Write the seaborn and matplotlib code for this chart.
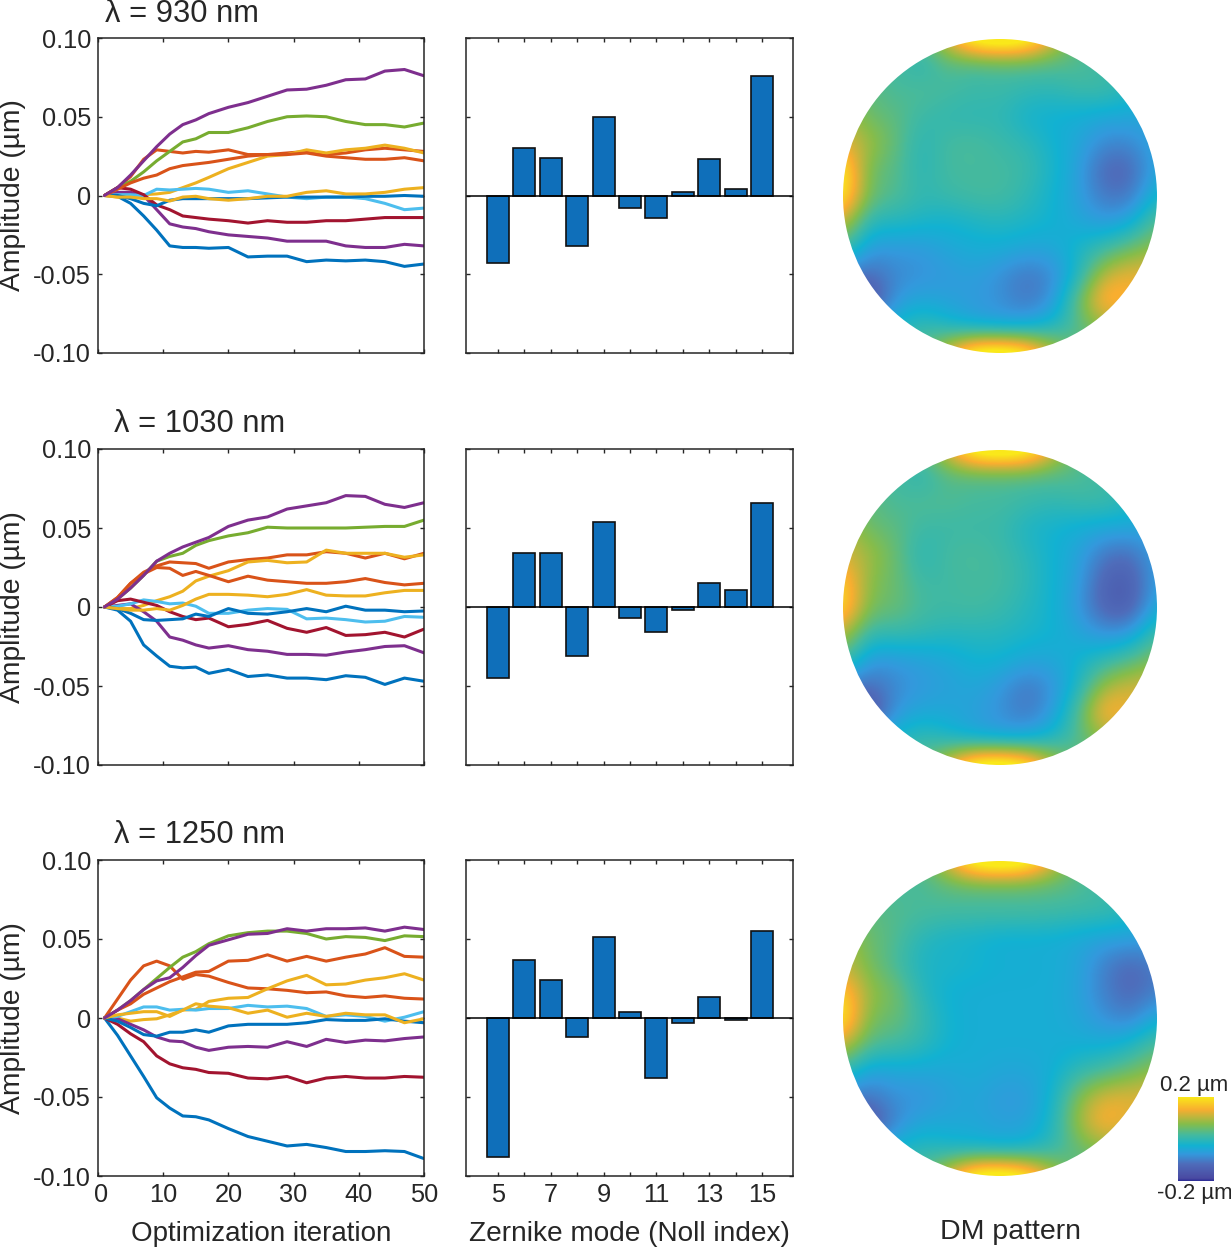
'''
plot.py

Zernike mode optimisation at three wavelengths: amplitude traces, final
amplitudes and the deformable mirror pattern.
'''
import matplotlib.pyplot as plt
import numpy as np
import seaborn as sns
from matplotlib.colors import LinearSegmentedColormap
from matplotlib.patches import Circle
from matplotlib.transforms import ScaledTranslation

W, H = 1231, 1247

iters = [1, 3, 5, 7, 9, 11, 13, 15, 17, 20, 23, 26, 29, 32, 35, 38, 41, 44, 47, 50]
modes = [5, 6, 7, 8, 9, 10, 11, 12, 13, 14, 15]
mode_colors = ["#0072BD", "#D95319", "#EDB120", "#7E2F8E", "#77AC30", "#4DBEEE",
               "#A2142F", "#0072BD", "#D95319", "#EDB120", "#7E2F8E"]
wavelengths = [930, 1030, 1250]

# amplitude traces, one row per Zernike mode (5 to 15)
traces_930 = [
    [0, -.0005, -.005, -.013, -.022, -.032, -.033, -.033, -.0335, -.033, -.039, -.0385, -.0385, -.042, -.041, -.0415, -.041, -.042, -.045, -.0435],
    [0, .005, .012, .023, .029, .028, .027, .028, .0275, .029, .026, .026, .027, .028, .026, .027, .029, .03, .029, .028],
    [0, -.001, 0, .0005, .001, .002, .005, .008, .0115, .017, .021, .025, .026, .029, .027, .029, .03, .032, .03, .027],
    [0, .002, .002, 0, -.009, -.018, -.02, -.021, -.023, -.025, -.026, -.027, -.029, -.029, -.029, -.032, -.033, -.033, -.031, -.032],
    [0, .005, .009, .015, .022, .028, .034, .036, .04, .04, .043, .047, .05, .0505, .05, .047, .045, .045, .0435, .046],
    [0, .0005, .0005, 0, .004, .0035, .004, .0045, .004, .002, .003, .001, -.001, -.002, -.001, -.001, -.002, -.005, -.009, -.008],
    [0, .005, .004, .0005, -.006, -.009, -.013, -.014, -.015, -.016, -.0175, -.016, -.017, -.017, -.016, -.016, -.015, -.014, -.014, -.014],
    [0, 0, -.002, -.005, -.0065, -.003, -.002, -.002, -.002, -.002, -.002, -.0015, -.001, -.001, -.001, -.001, -.0005, -.0005, 0, -.0005],
    [0, .004, .008, .011, .013, .017, .019, .02, .021, .023, .025, .026, .026, .027, .025, .024, .023, .023, .024, .022],
    [0, -.001, -.001, -.002, -.002, -.0035, -.001, -.0005, -.002, -.003, -.002, -.0005, -.0005, .002, .003, .001, .001, .002, .004, .005],
    [0, .005, .013, .022, .031, .039, .045, .048, .052, .056, .059, .063, .067, .0675, .07, .0735, .074, .079, .08, .076],
]
traces_1030 = [
    [0, -.002, -.009, -.024, -.031, -.0375, -.0385, -.038, -.042, -.0395, -.044, -.043, -.045, -.045, -.046, -.0435, -.0445, -.049, -.045, -.047],
    [0, .006, .015, .022, .026, .0285, .028, .0275, .0245, .0285, .03, .031, .033, .033, .035, .034, .031, .034, .0305, .034],
    [0, -.001, -.001, .001, .004, .0065, .01, .0165, .0195, .023, .0285, .0295, .028, .0285, .036, .034, .034, .034, .0315, .033],
    [0, .001, .002, -.003, -.009, -.019, -.021, -.024, -.026, -.0245, -.027, -.028, -.03, -.03, -.0305, -.0285, -.027, -.025, -.0245, -.029],
    [0, .005, .012, .02, .029, .032, .034, .039, .042, .045, .047, .0505, .05, .05, .05, .05, .0505, .051, .051, .055],
    [0, .0005, .002, .0045, .0035, .002, .0025, .0005, -.004, -.004, -.002, -.001, -.0015, -.0075, -.007, -.008, -.0095, -.009, -.006, -.0065],
    [0, .004, .005, .003, .001, -.003, -.006, -.008, -.007, -.0125, -.011, -.0085, -.0135, -.016, -.013, -.018, -.0175, -.016, -.019, -.014],
    [0, -.001, -.004, -.008, -.0085, -.008, -.0075, -.0045, -.006, -.001, -.004, -.0045, -.003, -.001, -.003, .0005, -.002, -.002, -.003, -.0025],
    [0, .006, .015, .021, .025, .0245, .02, .0225, .02, .016, .0195, .017, .016, .015, .015, .016, .018, .0155, .014, .015],
    [0, -.001, -.002, -.002, -.001, -.002, .001, .005, .008, .008, .0075, .0065, .008, .011, .0075, .007, .007, .009, .0105, .0105],
    [0, .005, .012, .02, .029, .034, .038, .041, .044, .051, .055, .057, .062, .064, .066, .0705, .07, .065, .063, .066],
]
traces_1250 = [
    [0, -.011, -.024, -.037, -.0505, -.057, -.062, -.0625, -.0645, -.07, -.075, -.078, -.081, -.08, -.082, -.0845, -.0845, -.084, -.0845, -.089],
    [0, .012, .024, .033, .036, .033, .0245, .0275, .0265, .0225, .019, .0185, .0175, .016, .0165, .014, .013, .014, .0125, .012],
    [0, 0, -.002, -.001, -.0005, .002, .005, .0055, .0105, .0125, .013, .0185, .0235, .027, .021, .0215, .024, .0255, .028, .024],
    [0, -.0005, -.004, -.0075, -.012, -.0145, -.015, -.0185, -.0205, -.0185, -.018, -.0185, -.015, -.018, -.0135, -.0155, -.014, -.0145, -.013, -.012],
    [0, .005, .011, .018, .025, .032, .0385, .042, .047, .052, .054, .055, .055, .0535, .05, .0515, .051, .049, .052, .0515],
    [0, .001, .004, .007, .007, .005, .0055, .005, .006, .006, .008, .007, .0075, .006, .001, .002, .001, -.002, .0005, .004],
    [0, -.004, -.01, -.015, -.024, -.029, -.0315, -.0325, -.0345, -.035, -.038, -.0385, -.037, -.041, -.038, -.037, -.038, -.038, -.037, -.0375],
    [0, -.002, -.006, -.0105, -.0115, -.009, -.009, -.0075, -.009, -.005, -.004, -.004, -.004, -.003, -.001, -.0015, -.0015, -.0005, -.002, -.003],
    [0, .005, .009, .015, .019, .023, .026, .029, .0295, .036, .0365, .04, .036, .039, .036, .0385, .0405, .0445, .039, .0385],
    [0, .002, .003, .004, .004, .001, .005, .009, .0075, .0065, .003, .005, .0005, .003, .001, .003, .002, .002, -.003, -.0005],
    [0, .005, .011, .018, .0235, .0255, .032, .0395, .046, .0495, .053, .0535, .0565, .055, .0565, .0565, .057, .055, .0575, .056],
]

# final amplitudes per mode
final_930 = [-.043, .030, .024, -.032, .050, -.008, -.014, .002, .023, .004, .076]
final_1030 = [-.045, .034, .034, -.031, .054, -.007, -.016, -.002, .015, .011, .066]
final_1250 = [-.088, .037, .024, -.012, .051, .004, -.038, -.003, .013, -.001, .055]

# mirror height in um on a 13 x 13 sample grid, top row first
dm_930 = [
    [.03, .03, .03, .03, .14, .26, .28, .26, .14, .03, .02, 0, 0],
    [.02, .02, .02, -.01, .03, .02, .03, .03, .03, .03, .01, 0, 0],
    [.05, .04, .02, .03, .02, .01, .01, 0, -.005, .01, .015, -.01, -.03],
    [.10, .05, .04, .01, 0, -.005, 0, -.03, -.035, -.04, -.05, -.05, -.06],
    [.13, .09, .045, -.01, .02, .025, .01, 0, -.03, -.05, -.09, -.09, -.05],
    [.22, .05, .035, -.01, .02, .02, .02, .01, -.02, -.06, -.13, -.13, -.05],
    [.22, .05, .03, 0, .01, .02, .02, 0, -.03, -.06, -.11, -.11, -.02],
    [.12, -.01, -.01, -.02, -.03, -.02, -.01, -.02, -.03, -.05, -.07, -.05, .04],
    [.03, -.07, -.07, -.07, -.05, -.04, -.04, -.05, -.05, -.02, .01, .05, .08],
    [-.10, -.12, -.09, -.08, -.07, -.06, -.08, -.11, -.09, -.02, .11, .14, .13],
    [-.18, -.18, -.07, -.05, -.06, -.07, -.08, -.11, -.08, .05, .18, .14, .12],
    [-.05, -.05, -.02, .01, -.02, -.05, -.06, -.05, -.02, .03, .08, .08, .08],
    [.03, .03, .03, .03, .14, .26, .28, .24, .12, .03, .03, .03, .03],
]
dm_1030 = [
    [.03, .03, .03, .03, .14, .26, .28, .26, .14, .03, .02, 0, 0],
    [.02, .02, .02, -.01, .03, .03, .03, .03, .03, .03, .01, 0, 0],
    [.05, .04, .02, .03, .03, .02, .02, .01, 0, .01, .015, -.01, -.03],
    [.10, .05, .04, .01, .01, .01, .01, -.02, -.03, -.04, -.05, -.05, -.06],
    [.12, .09, .05, -.01, .02, .025, .015, -.005, -.03, -.055, -.11, -.12, -.06],
    [.18, .07, .05, .01, .015, .02, .02, 0, -.03, -.06, -.14, -.15, -.06],
    [.20, .06, .05, .02, .015, .02, .01, -.01, -.03, -.07, -.14, -.15, -.04],
    [.11, 0, .01, 0, -.01, -.01, -.01, -.02, -.03, -.05, -.08, -.07, .02],
    [.03, -.07, -.07, -.06, -.05, -.03, -.03, -.05, -.05, -.03, 0, .03, .07],
    [-.10, -.12, -.09, -.07, -.06, -.05, -.07, -.11, -.08, -.02, .09, .12, .12],
    [-.18, -.18, -.07, -.05, -.05, -.06, -.08, -.11, -.07, .03, .17, .13, .12],
    [-.05, -.05, -.02, .01, -.02, -.05, -.06, -.05, -.02, .03, .08, .08, .08],
    [.03, .03, .03, .03, .14, .26, .28, .24, .12, .03, .03, .03, .03],
]
dm_1250 = [
    [.03, .03, .03, .03, .14, .26, .28, .26, .14, .03, .02, 0, 0],
    [.02, .02, .02, .02, .035, .035, .035, .035, .035, .03, .01, 0, 0],
    [.05, .04, .03, .025, .02, .02, .02, .02, .015, .01, .01, -.01, -.03],
    [.10, .05, .03, -.01, -.025, -.03, -.04, -.04, -.04, -.05, -.06, -.06, -.07],
    [.11, .06, .02, -.02, -.02, -.025, -.035, -.035, -.04, -.05, -.10, -.13, -.10],
    [.18, .08, .06, -.01, -.035, -.04, -.04, -.04, -.04, -.055, -.10, -.13, -.10],
    [.22, .06, .05, .01, -.03, -.04, -.04, -.04, -.04, -.05, -.08, -.10, -.04],
    [.12, .03, .02, 0, -.03, -.04, -.04, -.04, -.04, -.04, -.04, -.02, .03],
    [.01, -.06, -.05, -.05, -.05, -.04, -.05, -.05, -.04, 0, .02, .05, .08],
    [-.10, -.11, -.08, -.08, -.06, -.05, -.07, -.07, -.03, .07, .13, .13, .13],
    [-.17, -.17, -.09, -.05, -.05, -.05, -.06, -.06, -.02, .09, .16, .12, .12],
    [-.05, -.05, -.02, 0, -.02, -.03, -.04, -.03, 0, .04, .07, .07, .07],
    [.03, .03, .03, .03, .14, .26, .28, .24, .12, .03, .03, .03, .03],
]

all_traces = [traces_930, traces_1030, traces_1250]
all_final = [final_930, final_1030, final_1250]
all_dm = [dm_930, dm_1030, dm_1250]

# axes positions in pixels
row_tops = [38, 449, 860]
row_bottoms = [353, 765, 1176]
title_xy = [(105, 14), (114, 424), (114, 835)]
TEXT = "#262626"

sns.set_theme(style="ticks")
plt.rcParams["font.family"] = ["Liberation Sans", "DejaVu Sans"]
plt.rcParams["xtick.direction"] = "in"
plt.rcParams["ytick.direction"] = "in"

dm_cmap = LinearSegmentedColormap.from_list(
    "dm",
    [(0, "#2c2c96"), (.03, "#4a4aa2"), (.2, "#4f6cba"), (.32, "#3399dd"),
     (.42, "#12b2d2"), (.55, "#45ba9e"), (.68, "#86bd4a"), (.85, "#f8ae30"),
     (1, "#fae81a")],
)


def px_axes(fig, left, right, top, bottom):
    return fig.add_axes([left / W, 1 - bottom / H, (right - left) / W, (bottom - top) / H])


def style_box(ax):
    ax.tick_params(top=True, right=True, length=3, width=1, color=TEXT,
                   labelsize=18.3, labelcolor=TEXT, pad=5)
    for spine in ax.spines.values():
        spine.set_visible(True)
        spine.set_color(TEXT)
        spine.set_linewidth(1.1)


fig = plt.figure(figsize=(W / 100, H / 100), dpi=100)

for row in range(3):
    top, bottom = row_tops[row], row_bottoms[row]
    last = row == 2

    # traces
    ax = px_axes(fig, 98, 424, top, bottom)
    for values, color in zip(all_traces[row], mode_colors):
        sns.lineplot(x=iters, y=values, color=color, linewidth=2.2, errorbar=None, ax=ax)
    ax.set_xlim(0, 50)
    ax.set_ylim(-.1, .1)
    ax.set_xticks([0, 10, 20, 30, 40, 50])
    ax.set_yticks([-.1, -.05, 0, .05, .1])
    ax.set_yticklabels(["-0.10", "-0.05", "0", "0.05", "0.10"])
    ax.set_ylabel("Amplitude (µm)", fontsize=20.3, color=TEXT, labelpad=5)
    if last:
        ax.set_xlabel("Optimization iteration", fontsize=20, color=TEXT, labelpad=10)
    else:
        ax.set_xticklabels([])
    style_box(ax)
    if last:
        zero = ax.get_xticklabels()[0]
        zero.set_transform(zero.get_transform() + ScaledTranslation(3 / 100, 0, fig.dpi_scale_trans))
    fig.text(title_xy[row][0] / W, 1 - title_xy[row][1] / H,
             f"λ = {wavelengths[row]} nm", fontsize=22.2, color=TEXT, va="center")

    # final amplitudes
    ax = px_axes(fig, 466, 793, top, bottom)
    sns.barplot(x=modes, y=all_final[row], native_scale=True, color="#0F6FBA",
                saturation=1, width=.83, edgecolor="#111111", linewidth=1.2, ax=ax)
    ax.axhline(0, color="black", linewidth=1.1)
    ax.set_xlim(3.79, 16.17)
    ax.set_ylim(-.1, .1)
    ax.set_xticks(modes)
    ax.set_yticks([-.1, -.05, 0, .05, .1])
    ax.set_yticklabels([])
    ax.set_ylabel("")
    if last:
        ax.set_xticklabels([str(m) if m % 2 else "" for m in modes])
        ax.set_xlabel("Zernike mode (Noll index)", fontsize=20.2, color=TEXT, labelpad=10)
    else:
        ax.set_xticklabels([])
    style_box(ax)

    # mirror pattern
    ax = px_axes(fig, 843, 1157, top + 1, bottom)
    ax.set_xlim(-1, 1)
    ax.set_ylim(-1, 1)
    ax.set_axis_off()
    h = 1 / 12
    im = ax.imshow(np.array(all_dm[row]), cmap=dm_cmap, vmin=-.2, vmax=.2,
                   interpolation="bicubic", extent=(-1 - h, 1 + h, -1 - h, 1 + h), aspect="auto")
    im.set_clip_path(Circle((0, 0), 1, transform=ax.transData))

# colour bar next to the last pattern
cax = px_axes(fig, 1178, 1214, 1097, 1181)
cax.imshow(np.linspace(.2, -.2, 256).reshape(-1, 1), cmap=dm_cmap, vmin=-.2, vmax=.2, aspect="auto")
cax.set_axis_off()
fig.text(1194 / W, 1 - 1086 / H, "0.2 µm", fontsize=16, color=TEXT, ha="center", va="center")
fig.text(1195 / W, 1 - 1194 / H, "-0.2 µm", fontsize=16, color=TEXT, ha="center", va="center")
fig.text(1010 / W, 1 - 1232 / H, "DM pattern", fontsize=20.5, color=TEXT, ha="center", va="center")

fig.savefig("out.png", dpi=100)
